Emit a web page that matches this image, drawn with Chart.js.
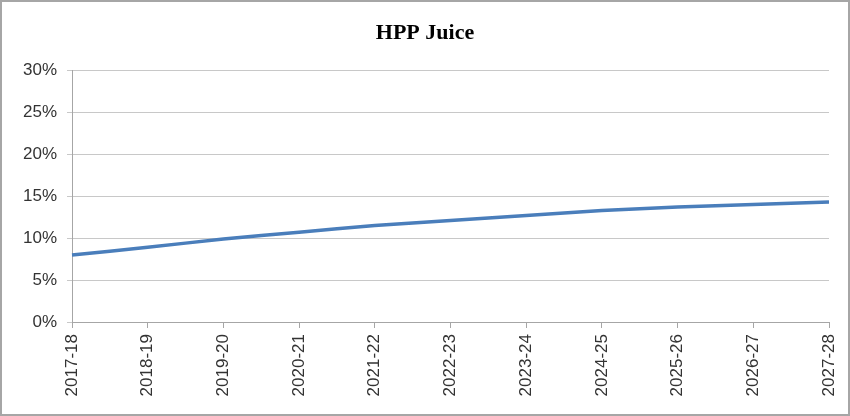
<!DOCTYPE html>
<html>
<head>
<meta charset="utf-8">
<script src="https://cdn.jsdelivr.net/npm/chart.js@4/dist/chart.umd.min.js"></script>
<style>
  html, body { margin: 0; padding: 0; background: #fff; }
  #wrap { width: 850px; height: 416px; }
</style>
</head>
<body>
<div id="wrap"><canvas id="chart" width="850" height="416"></canvas></div>
<script>
const years = ['2017-18', '2018-19', '2019-20', '2020-21', '2021-22', '2022-23',
  '2023-24', '2024-25', '2025-26', '2026-27', '2027-28'];
const share = [8.0, 8.9, 9.9, 10.7, 11.5, 12.1, 12.7, 13.3, 13.7, 14.0, 14.3];
const yTicks = [0, 5, 10, 15, 20, 25, 30];

// outer frame round the whole chart
const frame = {
  id: 'frame',
  afterDraw(chart) {
    const c = chart.ctx;
    c.save();
    c.strokeStyle = '#a6a6a6';
    c.lineWidth = 2;
    c.strokeRect(1, 1, chart.width - 2, chart.height - 2);
    c.restore();
  }
};

new Chart(document.getElementById('chart').getContext('2d'), {
  type: 'line',
  data: {
    labels: years,
    datasets: [{
      data: share,
      borderColor: '#4a7ebb',
      borderWidth: 3.5,
      pointRadius: 0,
      tension: 0.25,
      fill: false
    }]
  },
  options: {
    responsive: false,
    animation: false,
    layout: { padding: 0 },
    plugins: {
      legend: { display: false },
      tooltip: { enabled: false },
      title: {
        display: true,
        text: 'HPP Juice',
        color: '#000',
        font: { family: 'Liberation Serif', size: 22, weight: 'bold', lineHeight: 1.2 },
        padding: { top: 20, bottom: 24 }
      }
    },
    scales: {
      x: {
        offset: false,
        grid: { drawOnChartArea: false, drawTicks: true, tickLength: 6, color: '#a6a6a6' },
        border: { display: true, color: '#a6a6a6', width: 1 },
        ticks: {
          minRotation: 90, maxRotation: 90, autoSkip: false, padding: 6,
          color: '#333', font: { family: 'Liberation Sans', size: 17 }
        },
        afterFit(scale) { scale.height = 94; scale.paddingRight = 21; scale.paddingLeft = 0; }
      },
      y: {
        min: 0, max: 30,
        afterBuildTicks(scale) { scale.ticks = yTicks.map(v => ({ value: v })); },
        grid: { color: '#c8c8c8', tickLength: 5, drawTicks: true },
        border: { display: true, color: '#a6a6a6', width: 1 },
        ticks: {
          padding: 10, color: '#333',
          font: { family: 'Liberation Sans', size: 17 },
          callback: v => v + '%'
        },
        afterFit(scale) { scale.width = 72; }
      }
    }
  },
  plugins: [frame]
});
</script>
</body>
</html>
